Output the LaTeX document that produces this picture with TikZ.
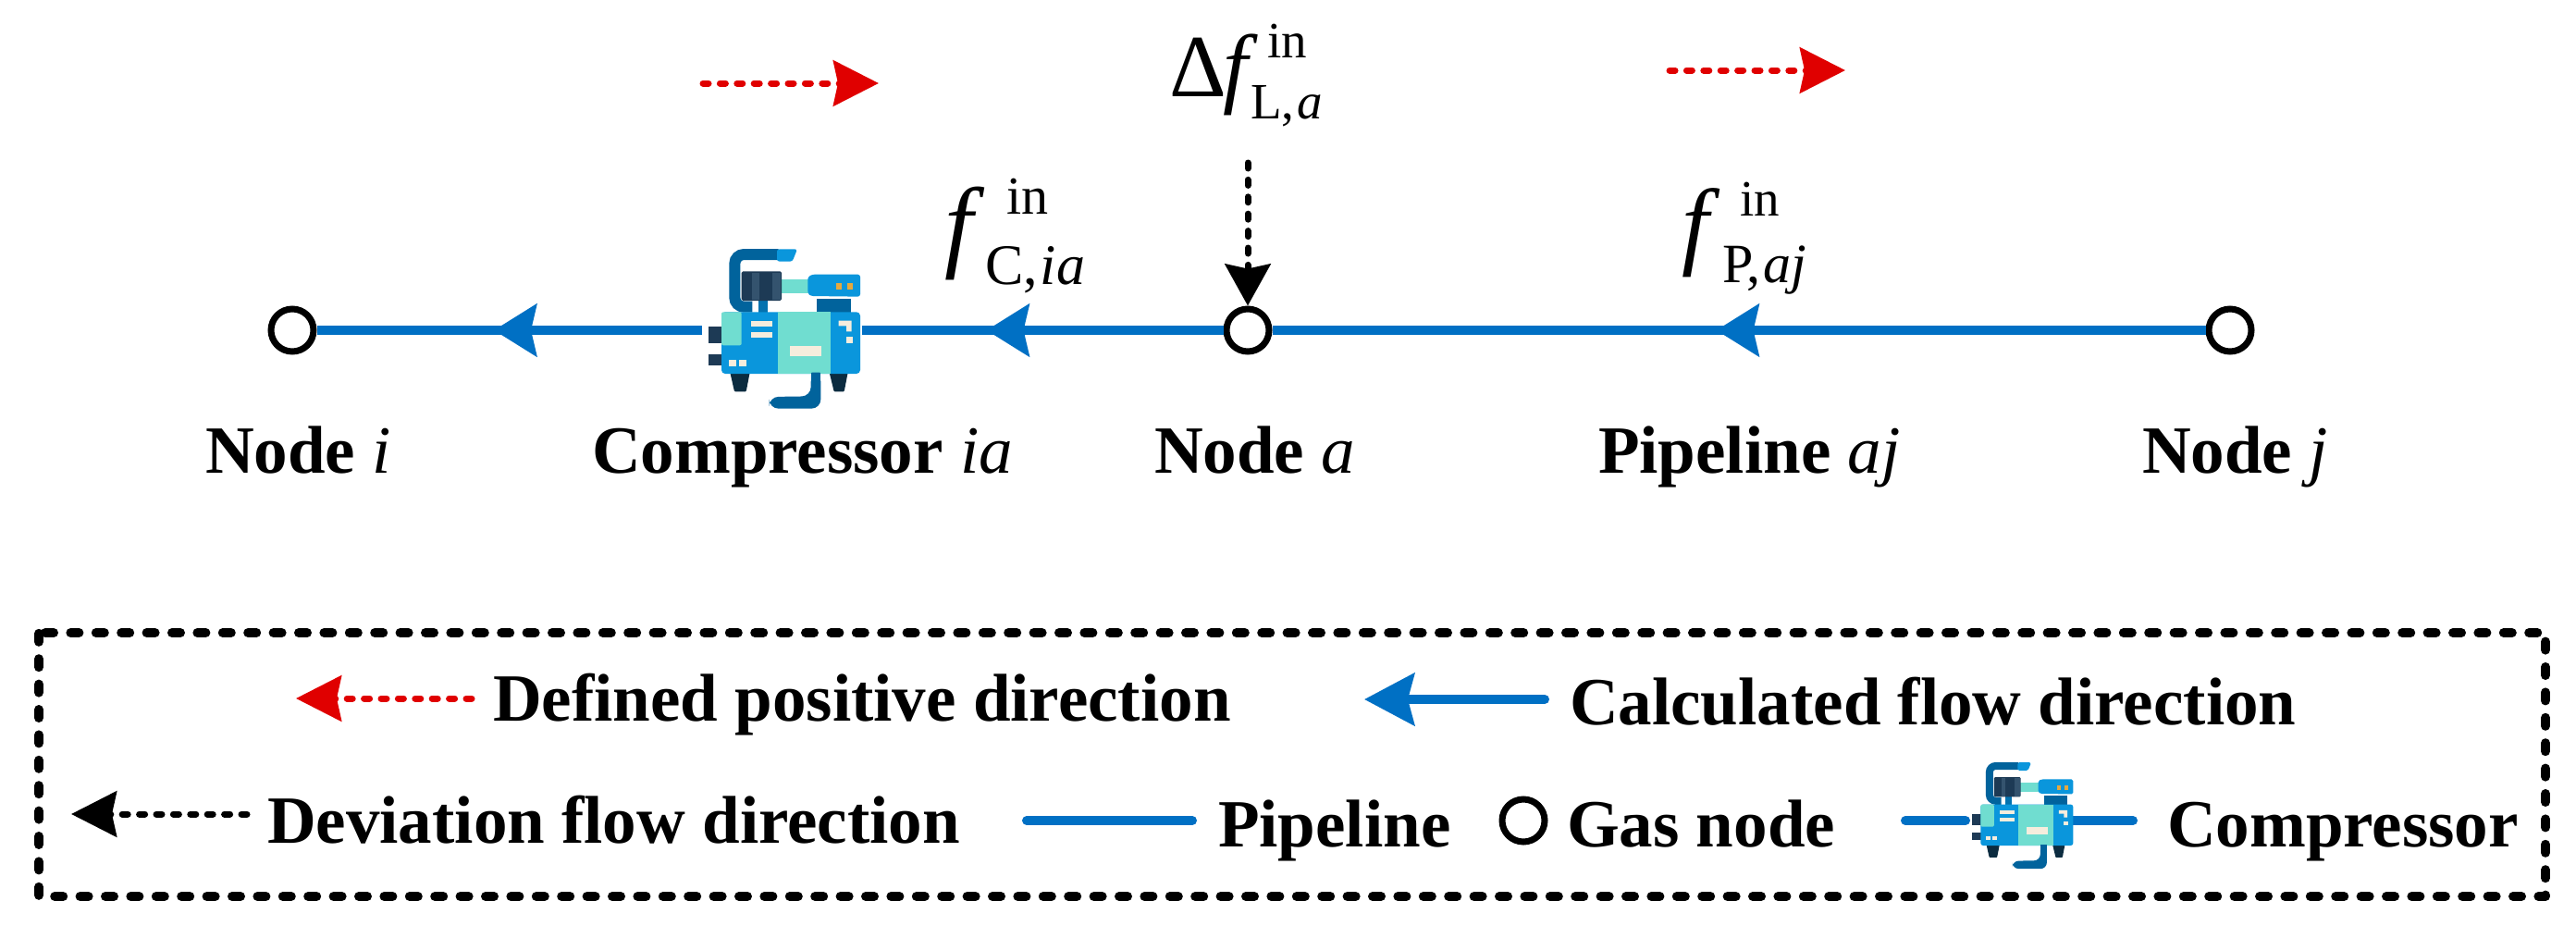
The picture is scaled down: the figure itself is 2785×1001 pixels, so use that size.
\documentclass[tikz,border=0pt]{standalone}
\usepackage{fontspec}
\setmainfont{Liberation Serif}
\usetikzlibrary{arrows.meta,decorations.markings}
\definecolor{pipeblue}{HTML}{0070C4}
\definecolor{flowred}{HTML}{E00000}
\definecolor{cteal}{HTML}{70DDD0}
\definecolor{cblue}{HTML}{0A96DC}
\definecolor{cnavy}{HTML}{1D3A55}
\definecolor{cslate}{HTML}{34536E}
\definecolor{cdeep}{HTML}{01639C}
\definecolor{ccream}{HTML}{F6EDDD}
\definecolor{corange}{HTML}{E5A93F}
\definecolor{cfoot}{HTML}{0C2C40}
\newcommand{\flowlab}[9]{%
  \fontsize{#1}{#1}\selectfont
  \rlap{\hspace*{#3pt}\raisebox{#4pt}{\fontsize{#2}{#2}\selectfont in}}%
  \rlap{\hspace*{#6pt}\raisebox{#7pt}{\fontsize{#5}{#5}\selectfont #8,\kern3pt\textit{#9}}}%
  \textit{f}}
\tikzset{
  x=1pt,y=-1pt,
  gasnode/.style={circle,draw=black,fill=white,line width=7pt,minimum size=46pt,inner sep=0pt},
  hidden/.style={inner sep=0pt,outer sep=0pt,minimum height=1pt},
  txt/.style={anchor=base west,inner sep=0pt,outer sep=0pt,font=\fontsize{73}{73}\selectfont\bfseries},
  mathlab/.style={anchor=base west,inner sep=0pt,outer sep=0pt},
  pipe/.style={draw=pipeblue,line width=10pt},
  flowtip/.tip={Stealth[length=49pt,width=49pt,inset=5pt]},
  reddash/.style={draw=flowred,line width=7pt,line cap=round,dash pattern=on 6pt off 12.4pt},
  blackdash/.style={draw=black,line width=7pt,line cap=round,dash pattern=on 6pt off 12.4pt},
  midflow/.style={postaction={decorate,decoration={markings,
      mark=at position #1 with {\arrow[pipeblue]{Stealth[length=46pt,width=56pt,inset=6pt]}}}}},
  pics/compressor/.style={code={
    % top pipe
    \draw[cdeep,line width=#1*36pt,rounded corners=#1*30pt] (425,135)--(283,135)--(283,305)--(340,305);
    \fill[cblue,rounded corners=#1*8pt] (420,118)--(486,118)--(470,158)--(420,158)--cycle;
    % connectors
    \fill[cteal] (430,215) rectangle (525,262);
    \fill[cdeep!70!cblue] (360,285) rectangle (390,325);
    % motor
    \fill[cnavy,rounded corners=#1*5pt] (305,190) rectangle (435,285);
    \fill[cslate] (340,195) rectangle (362,282);
    \fill[cslate] (405,195) rectangle (432,282);
    % head
    \fill[cblue,rounded corners=#1*8pt] (520,208)--(535,200)--(690,200)--(690,272)--(530,270)--(520,262)--cycle;
    \fill[corange] (612,228) rectangle (630,250);
    \fill[corange] (647,228) rectangle (665,250);
    \fill[cdeep] (550,278) rectangle (660,324);
    % stubs
    \fill[cnavy] (198,368) rectangle (245,422);
    \fill[cnavy] (198,458) rectangle (245,495);
    % feet
    \fill[cfoot,rounded corners=#1*3pt] (268,518)--(332,518)--(320,580)--(282,580)--cycle;
    \fill[cfoot,rounded corners=#1*3pt] (590,518)--(650,518)--(638,580)--(605,580)--cycle;
    % body
    \fill[cblue,rounded corners=#1*12pt] (240,322) rectangle (690,522);
    \fill[cteal,rounded corners=#1*6pt] (240,322)--(305,322)--(305,430)--(240,430)--cycle;
    \fill[cteal] (422,322) rectangle (595,522);
    % details
    \fill[ccream] (335,350) rectangle (405,368);
    \fill[ccream] (335,387) rectangle (405,405);
    \fill[ccream] (462,433) rectangle (565,466);
    \fill[ccream] (265,477) rectangle (287,497);
    \fill[ccream] (298,477) rectangle (320,497);
    \fill[ccream] (620,350)--(662,350)--(662,385)--(645,385)--(645,367)--(620,367)--cycle;
    \fill[ccream] (645,403) rectangle (665,423);
    % bottom pipe
    \fill[cdeep,rounded corners=#1*30pt] (530,518)--(530,595)--(395,597)--(395,635)--(562,635)--(562,518)--cycle;
    \fill[cdeep] (530,518) rectangle (562,560);
  }}
}
\begin{document}
\begin{tikzpicture}
\useasboundingbox (0,0) rectangle (2785,1001);
\fill[white] (0,0) rectangle (2785,1001);

% main network
\node[gasnode] (ni) at (316,357) {};
\node[gasnode] (na) at (1349,357) {};
\node[gasnode] (nj) at (2411,357) {};
\node[hidden,minimum width=173pt] (comp) at (845.5,357) {};
\path[pipe,midflow=225pt] (comp.west) -- (ni);
\path[pipe,midflow=256pt] (na) -- (comp.east);
\path[pipe,midflow=529pt] (nj) -- (na);
\pic[scale=1/3] at (700,230) {compressor=.3333};

% deviation arrow
\coordinate (devstart) at (1349,176);
\draw[blackdash,-{Stealth[length=45pt,width=49pt,inset=5pt]}] (devstart) -- (na);

% defined positive arrows
\coordinate (ra1) at (760,90);
\coordinate (rb1) at (950,90);
\coordinate (ra2) at (1805,76);
\coordinate (rb2) at (1995,76);
\draw[reddash,-flowtip] (ra1) -- (rb1);
\draw[reddash,-flowtip] (ra2) -- (rb2);

% math labels
\node[mathlab] (ldev) at (1322,104) {\rlap{\hspace*{-58pt}\fontsize{96}{96}\selectfont Δ}\flowlab{96}{55}{48}{42}{55}{30}{-24}{L}{a}};
\node[mathlab] (lcomp) at (1021,279) {\flowlab{110}{58}{67}{48}{62}{44}{-28}{C}{ia}};
\node[mathlab] (lpipe) at (1818,277) {\flowlab{105}{55}{63}{44}{60}{44}{-28}{P}{aj}};

% main labels
\node[txt] (ti) at (222,511) {Node \textit{\mdseries i}};
\node[txt] (tc) at (640,511) {Compressor \textit{\mdseries ia}};
\node[txt] (ta) at (1248,511) {Node \textit{\mdseries a}};
\node[txt] (tp) at (1728,511) {Pipeline \textit{\mdseries aj}};
\node[txt] (tj) at (2316,511) {Node \textit{\mdseries j}};

% legend box
\draw[line width=10pt,line cap=round,line join=round,dash pattern=on 9pt off 18.4pt] (49,684) -- (2752,684) -- (2752,969) -- (42,969) -- (42,684);

% legend row 1
\coordinate (lra) at (510,755);
\coordinate (lrb) at (320,755);
\draw[reddash,-flowtip] (lra) -- (lrb);
\node[txt] (t1) at (533,779) {Defined positive direction};
\coordinate (lba) at (1670,756);
\coordinate (lbb) at (1475,756);
\draw[pipe,line cap=round,-{Stealth[length=54pt,width=56pt,inset=7pt]}] (lba) -- (lbb);
\node[txt] (t2) at (1697,783) {Calculated flow direction};

% legend row 2
\coordinate (lka) at (267,880);
\coordinate (lkb) at (77,880);
\draw[blackdash,-flowtip] (lka) -- (lkb);
\node[txt] (t3) at (289,911) {Deviation flow direction};
\coordinate (lpa) at (1110,887);
\coordinate (lpb) at (1289,887);
\draw[pipe,line cap=round] (lpa) -- (lpb);
\node[txt] (t4) at (1317,915) {Pipeline};
\node[gasnode] (lgas) at (1647,887) {};
\node[txt] (t5) at (1694,915) {Gas node};
\coordinate (lca) at (2060,887);
\coordinate (lcb) at (2125,887);
\coordinate (lcc) at (2237,887);
\coordinate (lcd) at (2306,887);
\draw[pipe,line cap=round] (lca) -- (lcb);
\draw[pipe,line cap=round] (lcc) -- (lcd);
\pic[scale=2/9] at (2088,798) {compressor=.2222};
\node[txt] (t6) at (2343,915) {Compressor};
\end{tikzpicture}
\end{document}
